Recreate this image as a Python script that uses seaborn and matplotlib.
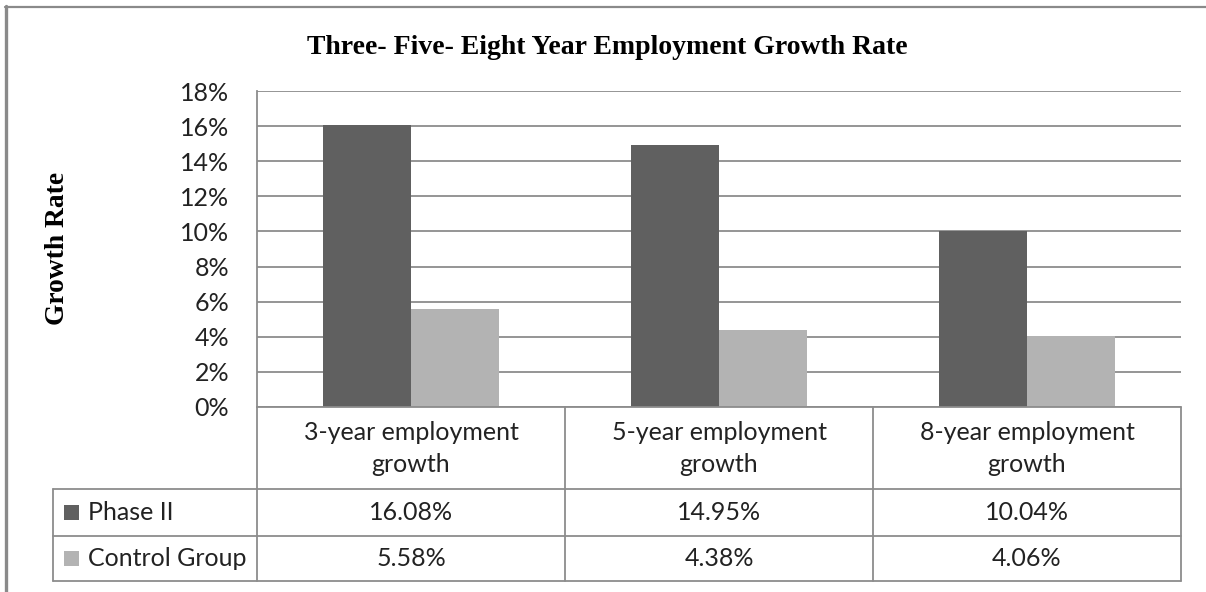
import numpy as np
import pandas as pd
import matplotlib
matplotlib.use("Agg")
import matplotlib.pyplot as plt
import seaborn as sns
from matplotlib.ticker import PercentFormatter
from matplotlib.patches import Rectangle
from matplotlib.lines import Line2D

# ---------------- data ----------------
categories = ["3-year employment\ngrowth", "5-year employment\ngrowth", "8-year employment\ngrowth"]
series_names = ["Phase II", "Control Group"]
phase2 = [0.1608, 0.1495, 0.1004]
control = [0.0558, 0.0438, 0.0406]
phase2_labels = ["16.08%", "14.95%", "10.04%"]
control_labels = ["5.58%", "4.38%", "4.06%"]
y_ticks = [0.00, 0.02, 0.04, 0.06, 0.08, 0.10, 0.12, 0.14, 0.16, 0.18]
title = "Three- Five- Eight Year Employment Growth Rate"
ylabel = "Growth Rate"

# ---------------- style ----------------
W, H = 1206, 592
sns.set_theme(style="white")
plt.rcParams["font.family"] = ["Lato", "DejaVu Sans"]
colors = ["#606060", "#b3b3b3"]
line_c = "#8c8c8c"
text_c = "#222222"

fig = plt.figure(figsize=(W / 100, H / 100), dpi=100)
fig.patch.set_facecolor("white")


def fx(px):
    return px / W


def fy(py):
    return 1 - py / H


ax_l, ax_r, ax_t, ax_b = 257, 1181, 91, 407
ax = fig.add_axes([fx(ax_l), fy(ax_b), (ax_r - ax_l) / W, (ax_b - ax_t) / H])

renderer = fig.canvas.get_renderer()


def fit(text, target, **kw):
    t = fig.text(0, 0, text, fontsize=10, **kw)
    w = t.get_window_extent(renderer).width
    t.remove()
    return 10 * target / w


sans_size = fit("Control Group", 160, family=["Lato"])
title_size = fit(title, 602, family="Liberation Serif", weight="bold")
ylab_size = fit(ylabel, 153, family="Liberation Serif", weight="bold")

df = pd.DataFrame({
    "category": categories * 2,
    "series": [s for s in series_names for _ in categories],
    "value": phase2 + control,
})

sns.barplot(data=df, x="category", y="value", hue="series", order=categories,
            hue_order=series_names, palette=colors, saturation=1, width=0.571,
            gap=0, ax=ax, legend=False, linewidth=0, errorbar=None)

ax.set_xlim(-0.5, 2.5)
ax.set_ylim(0, 0.18)
ax.set_yticks(y_ticks)
ax.yaxis.set_major_formatter(PercentFormatter(xmax=1, decimals=0))
ax.tick_params(axis="y", length=0, pad=20, labelsize=sans_size, labelcolor=text_c)
ax.set_xticks([])
ax.set_xlabel("")
ax.set_ylabel("")
ax.set_axisbelow(True)
ax.yaxis.grid(True, color=line_c, lw=1.3)
for s in ["top", "right", "bottom"]:
    ax.spines[s].set_visible(False)
ax.spines["left"].set_color(line_c)
ax.spines["left"].set_linewidth(1.3)

# ---------------- data table ----------------
col_edges = [ax.transData.transform((x, 0))[0] for x in [-0.5, 0.5, 1.5, 2.5]]
col_edges_px = [e for e in col_edges]  # display px (origin bottom-left)
row_lines = [407, 489, 536, 581]
tbl_left = 53


def hline(x0, x1, y):
    fig.add_artist(Line2D([x0 / W, x1 / W], [fy(y), fy(y)], color=line_c, lw=1.3,
                          transform=fig.transFigure))


def vline(x, y0, y1):
    fig.add_artist(Line2D([x / W, x / W], [fy(y0), fy(y1)], color=line_c, lw=1.3,
                          transform=fig.transFigure))


hline(col_edges_px[0], col_edges_px[-1], row_lines[0])
for y in row_lines[1:]:
    hline(tbl_left, col_edges_px[-1], y)
vline(tbl_left, row_lines[1], row_lines[-1])
vline(col_edges_px[0], row_lines[0], row_lines[-1])
for x in col_edges_px[1:]:
    vline(x, row_lines[0], row_lines[-1])

centers = [ax.transData.transform((i, 0))[0] for i in range(len(categories))]
for cx, cat in zip(centers, categories):
    l1, l2 = cat.split("\n")
    fig.text(cx / W, fy(433), l1, ha="center", va="center", fontsize=sans_size, color=text_c)
    fig.text(cx / W, fy(465), l2, ha="center", va="center", fontsize=sans_size, color=text_c)

row_c = [(row_lines[1] + row_lines[2]) / 2, (row_lines[2] + row_lines[3]) / 2]
for cx, a, b in zip(centers, phase2_labels, control_labels):
    fig.text(cx / W, fy(row_c[0]), a, ha="center", va="center", fontsize=sans_size, color=text_c)
    fig.text(cx / W, fy(row_c[1]), b, ha="center", va="center", fontsize=sans_size, color=text_c)

for rc, name, c in zip(row_c, series_names, colors):
    fig.add_artist(Rectangle((fx(64), fy(rc + 7.5)), 15 / W, 15 / H, facecolor=c,
                             edgecolor="none", transform=fig.transFigure))
    fig.text(fx(88), fy(rc), name, ha="left", va="center", fontsize=sans_size, color=text_c)

# ---------------- titles ----------------
fig.text(fx(607), fy(48), title, ha="center", va="center", fontsize=title_size,
         family="Liberation Serif", weight="bold", color="black")
fig.text(fx(58), fy(248), ylabel, ha="center", va="center", rotation=90,
         fontsize=ylab_size, family="Liberation Serif", weight="bold", color="black")

# ---------------- outer frame ----------------
fig.add_artist(Line2D([fx(6), fx(6)], [fy(5.5), 0], color="#8a8a8a", lw=2.4,
                      transform=fig.transFigure))
fig.add_artist(Line2D([fx(5), 1], [fy(6.5), fy(6.5)], color="#8a8a8a", lw=1.6,
                      transform=fig.transFigure))

fig.savefig("out.png", dpi=100, facecolor="white")
